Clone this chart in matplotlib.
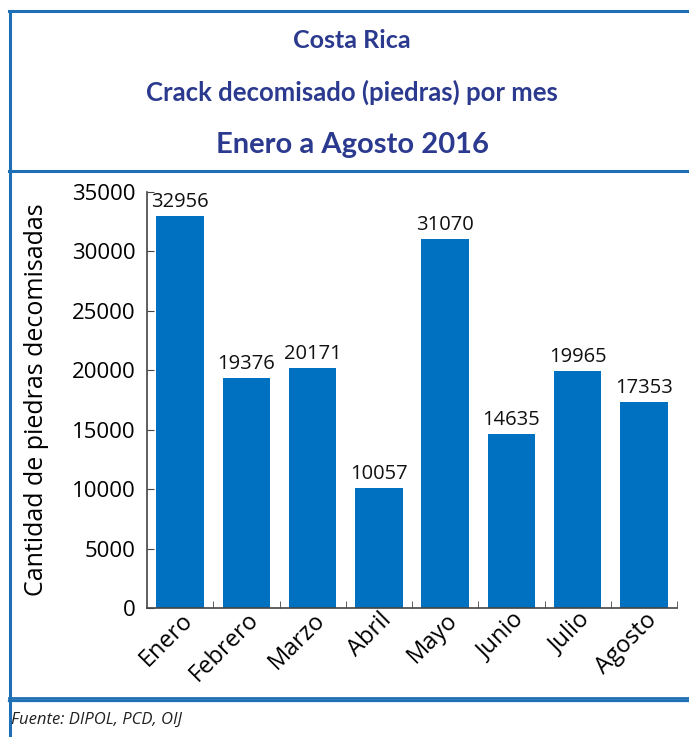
import numpy as np
import matplotlib
matplotlib.use("Agg")
import matplotlib.pyplot as plt
from matplotlib.lines import Line2D
from matplotlib.transforms import ScaledTranslation

# Data
months = ["Enero", "Febrero", "Marzo", "Abril", "Mayo", "Junio", "Julio", "Agosto"]
piedras = [32956, 19376, 20171, 10057, 31070, 14635, 19965, 17353]
y_ticks = [0, 5000, 10000, 15000, 20000, 25000, 30000, 35000]

bar_color = "#0070c0"
frame_color = "#1f6fb5"
title_color = "#2b3a8f"

plt.rcParams["font.family"] = ["Open Sans", "DejaVu Sans"]

fig = plt.figure(figsize=(6.89, 7.37), dpi=100)
W, H = 689, 737

# Frame lines (pixel coords -> figure fraction)
def hline(y, x0, x1, lw=2.2):
    fig.add_artist(Line2D([x0 / W, x1 / W], [1 - y / H, 1 - y / H], color=frame_color, lw=lw,
                          transform=fig.transFigure))

def vline(x, y0, y1, lw=2.2):
    fig.add_artist(Line2D([x / W, x / W], [1 - y0 / H, 1 - y1 / H], color=frame_color, lw=lw,
                          transform=fig.transFigure))

hline(11, 9, W)
hline(171, 9, W)
hline(697.5, 9, W, lw=2.0)
hline(701, 9, W, lw=1.6)
vline(9.5, 11, H)

# Titles
title_font = ["Lato", "DejaVu Sans"]
fig.text(352 / W, 1 - 40 / H, "Costa Rica", ha="center", va="center", color=title_color,
         fontsize=18, fontweight="bold", family=title_font)
fig.text(352 / W, 1 - 92 / H, "Crack decomisado (piedras) por mes", ha="center", va="center",
         color=title_color, fontsize=18.5, fontweight="bold", family=title_font)
fig.text(352 / W, 1 - 145 / H, "Enero a Agosto 2016", ha="center", va="center", color=title_color,
         fontsize=21, fontweight="bold", family=title_font)

# Footer
fig.text(11 / W, 1 - 720 / H, "Fuente: DIPOL, PCD, OIJ", ha="left", va="center", fontsize=12,
         style="italic", color="#222222")

# Chart
ax = fig.add_axes([147 / W, 1 - 608 / H, 530 / W, 416 / H])
x = np.arange(len(months))
ax.bar(x, piedras, width=0.72, color=bar_color, zorder=2)
for xi, v in zip(x, piedras):
    ax.text(xi, v + 350, str(v), ha="center", va="bottom", fontsize=14.5, color="#111111")

ax.set_xlim(-0.5, len(months) - 0.5)
ax.set_ylim(0, 35000)
ax.set_yticks(y_ticks)
ax.set_yticklabels([str(t) for t in y_ticks], fontsize=16)
ax.set_xticks(x)
ax.set_xticklabels(months, rotation=45, ha="right", va="center", rotation_mode="anchor", fontsize=17)
ax.tick_params(axis="x", length=0, pad=4)
offset = ScaledTranslation(9 / 100, -3 / 100, fig.dpi_scale_trans)
for lab in ax.get_xticklabels():
    lab.set_transform(lab.get_transform() + offset)
ax.set_xticks(np.arange(len(months)) + 0.5, minor=True)
ax.tick_params(axis="x", which="minor", direction="in", length=5, color="#444444")
ax.tick_params(axis="y", direction="in", length=5, color="#444444", pad=8)

for s in ["top", "right"]:
    ax.spines[s].set_visible(False)
for s in ["left", "bottom"]:
    ax.spines[s].set_color("#444444")
    ax.spines[s].set_linewidth(1.2)

ax.set_ylabel("Cantidad de piedras decomisadas", fontsize=18, labelpad=17)

fig.savefig("out.png", dpi=100)
